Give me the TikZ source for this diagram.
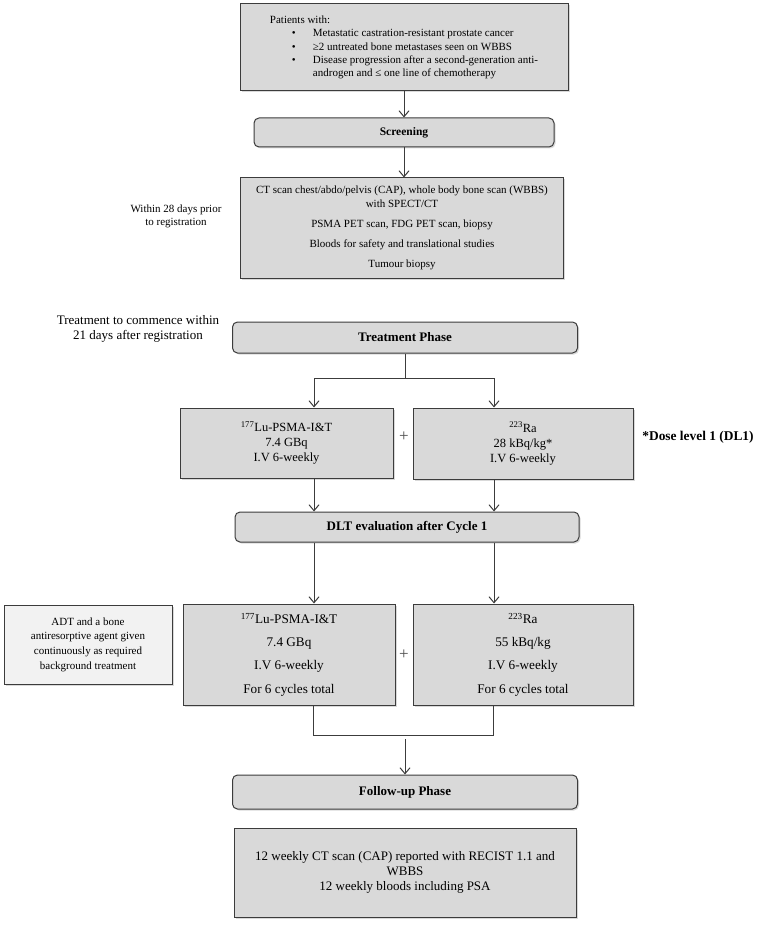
\documentclass[tikz,border=0pt]{standalone}
\usepackage{fontspec}
\setmainfont{Liberation Serif}
\usetikzlibrary{arrows.meta,shadows,positioning}

\definecolor{boxgray}{HTML}{D9D9D9}
\definecolor{boxlight}{HTML}{F2F2F2}
\definecolor{edgegray}{HTML}{3C3C3C}

\begin{document}
\begin{tikzpicture}[x=1pt, y=-1pt, font=\fontsize{11}{13.3}\selectfont,
    >={Straight Barb[length=6pt,width=10pt]},
    box/.style={draw=edgegray, line width=1pt, fill=boxgray, align=center, inner sep=4pt,
        drop shadow={shadow xshift=1.5pt, shadow yshift=-1.5pt, opacity=0.3}},
    phase/.style={box, rounded corners=5pt, font=\fontsize{13}{15}\selectfont\bfseries},
    link/.style={draw=edgegray, line width=1pt},
    note/.style={align=center}]
    \useasboundingbox (0,0) rectangle (767,928);

    \node (pat) [box, minimum width=328pt, minimum height=87pt, align=left] at (404,47.5) {Patients with:\\
        \hspace*{22pt}\makebox[21pt][l]{\textbullet}Metastatic castration-resistant prostate cancer\\
        \hspace*{22pt}\makebox[21pt][l]{\textbullet}≥2 untreated bone metastases seen on WBBS\\
        \hspace*{22pt}\makebox[21pt][l]{\textbullet}Disease progression after a second-generation anti-\\
        \hspace*{43pt}androgen and ≤ one line of chemotherapy};
    \node (scr) [phase, font=\fontsize{11.5}{13.3}\selectfont\bfseries, minimum width=300pt, minimum height=29pt] at (404,132.5) {Screening};
    \node (det) [box, minimum width=323pt, minimum height=100pt] at (402,228) {CT scan chest/abdo/pelvis (CAP), whole body bone scan (WBBS)\\ with SPECT/CT\\[6.7pt] PSMA PET scan, FDG PET scan, biopsy\\[6.7pt] Bloods for safety and translational studies\\[6.7pt] Tumour biopsy};
    \node (within) [note] at (176,216.5) {Within 28 days prior\\ to registration};

    \node (start) [note, font=\fontsize{13}{14.3}\selectfont] at (138,329) {Treatment to commence within\\ 21 days after registration};
    \node (trt) [phase, minimum width=345pt, minimum height=31pt] at (405,337.5) {Treatment Phase};

    \node (lua) [box, font=\fontsize{12.5}{15}\selectfont, minimum width=213pt, minimum height=70pt] at (286.5,443) {\textsuperscript{177}Lu-PSMA-I\&T\\ 7.4 GBq\\ I.V 6-weekly};
    \node (raa) [box, font=\fontsize{12.5}{15}\selectfont, minimum width=220pt, minimum height=71pt] at (523,443.5) {\textsuperscript{223}Ra\\ 28 kBq/kg*\\ I.V 6-weekly};
    \node (plusa) [text=black!70] at (404,437) {\fontsize{17}{17}\selectfont +};
    \node (dose) [font=\fontsize{13.4}{15}\selectfont\bfseries] at (698,437) {*Dose level 1 (DL1)};

    \node (dlt) [phase, minimum width=344pt, minimum height=30pt] at (407,527) {DLT evaluation after Cycle 1};

    \node (adt) [box, fill=boxlight, minimum width=168pt, minimum height=79pt] at (88,644.5) {ADT and a bone\\[1.4pt] antiresorptive agent given\\[1.4pt] continuously as required\\[1.4pt] background treatment};
    \node (lub) [box, font=\fontsize{13.2}{15}\selectfont, minimum width=212pt, minimum height=101pt] at (289,654.5) {\textsuperscript{177}Lu-PSMA-I\&T\\[8.3pt] 7.4 GBq\\[8.3pt] I.V 6-weekly\\[8.3pt] For 6 cycles total};
    \node (rab) [box, font=\fontsize{13.2}{15}\selectfont, minimum width=220pt, minimum height=101pt] at (523,654.5) {\textsuperscript{223}Ra\\[8.3pt] 55 kBq/kg\\[8.3pt] I.V 6-weekly\\[8.3pt] For 6 cycles total};
    \node (plusb) [text=black!70] at (404,655) {\fontsize{17}{17}\selectfont +};

    \node (fup) [phase, minimum width=345pt, minimum height=34pt] at (405,792) {Follow-up Phase};
    \node (fin) [box, font=\fontsize{13}{15}\selectfont, minimum width=342pt, minimum height=89pt] at (405,872.5) {12 weekly CT scan (CAP) reported with RECIST 1.1 and\\ WBBS\\ 12 weekly bloods including PSA};

    \coordinate (tl) at (314,378);
    \coordinate (tr) at (494,378);
    \coordinate (bl) at (313,735);
    \coordinate (br) at (493,735);
    \coordinate (bj) at (405,739);

    \draw[link, ->] (pat) -- (pat |- scr.north);
    \draw[link, ->] (scr.south -| pat) -- (det.north -| pat);
    \draw[link] (trt) -- (trt |- tl) (tl) -- (tr);
    \draw[link, ->] (tl) -- (tl |- lua.north);
    \draw[link, ->] (tr) -- (tr |- raa.north);
    \draw[link, ->] (lua.south -| tl) -- (dlt.north -| tl);
    \draw[link, ->] (raa.south -| tr) -- (dlt.north -| tr);
    \draw[link, ->] (dlt.south -| tl) -- (lub.north -| tl);
    \draw[link, ->] (dlt.south -| tr) -- (rab.north -| tr);
    \draw[link] (lub.south -| bl) |- (br) -- (rab.south -| br);
    \draw[link, ->] (bj) -- (fup);
\end{tikzpicture}
\end{document}
